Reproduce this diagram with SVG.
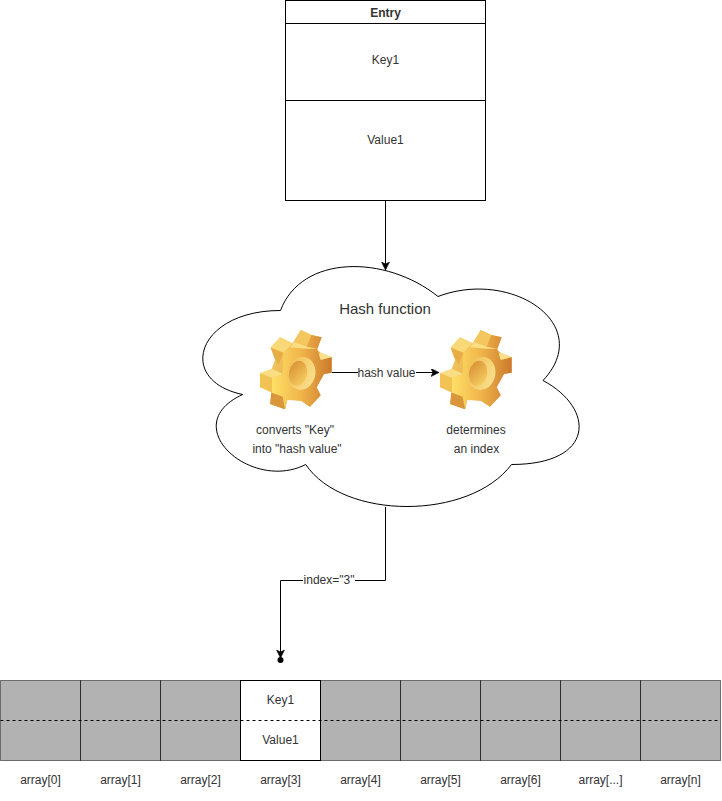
<svg xmlns="http://www.w3.org/2000/svg" width="722" height="801" viewBox="0 0 722 801">
<style>
text{font-family:"Liberation Sans",Arial,sans-serif;font-size:12px;fill:#333;text-anchor:middle}
.b{fill:#fff;stroke:#000;stroke-width:1}
.c{fill:#000;fill-opacity:.3;stroke:#000;stroke-opacity:.5;stroke-width:1}
.e{fill:none;stroke:#000;stroke-width:1}
</style>
<defs>
<linearGradient id="gf" x1="0" y1="0" x2="1" y2="0"><stop offset="0" stop-color="#ffe066"/><stop offset=".5" stop-color="#efb34a"/><stop offset="1" stop-color="#cc7a2c"/></linearGradient>
<linearGradient id="gs" x1="0" y1="0" x2="1" y2="1"><stop offset="0" stop-color="#fad46a"/><stop offset="1" stop-color="#dd9a38"/></linearGradient>
<linearGradient id="gh" x1="0" y1="0" x2="1" y2="1"><stop offset="0" stop-color="#d68a30"/><stop offset="1" stop-color="#f9d565"/></linearGradient>
<linearGradient id="gr" x1="0" y1="0" x2="1" y2=".3"><stop offset="0" stop-color="#f0bd50"/><stop offset="1" stop-color="#f9dc88"/></linearGradient>
<g id="gear" transform="translate(200 250) scale(.3333)">
<polygon fill="url(#gs)" points="302,240 335,255 365,262 350,298 362,308 395,322 395,368 372,372 350,412 362,436 330,470 303,452 262,448 255,478 210,462 228,418 215,410 180,412 180,370 215,358 228,322 212,293 240,262 278,280"/>
<polygon fill="#f4c75e" points="302,240 334,255 318,295 282,278"/>
<polygon fill="#f9d878" points="240,262 278,280 250,308 212,293"/>
<polygon fill="#e8ae45" points="212,293 250,308 236,345 222,322"/>
<polygon fill="#fbdd84" points="180,370 215,356 250,372 216,384"/>
<polygon fill="#fde08c" points="362,308 395,322 365,332 348,318"/>
<polygon fill="#d9963a" points="215,418 262,442 255,478 210,462"/>
<polygon fill="url(#gf)" points="250,306 280,290 318,296 334,255 365,262 352,298 362,330 395,322 395,368 372,372 350,412 362,436 330,470 303,452 262,450 255,478 248,440 216,428 216,384 248,372"/>
<polygon fill="#f3c254" points="180,370 216,384 216,428 180,412"/>
<polygon fill="#fbdd84" points="270,292 283,277 320,290 352,296 318,296"/>
<ellipse cx="304" cy="370" rx="42" ry="50" transform="rotate(12 304 370)" fill="url(#gr)"/>
<ellipse cx="294" cy="370" rx="27" ry="38" transform="rotate(12 294 370)" fill="url(#gh)"/>
</g>
<marker id="a" markerWidth="10" markerHeight="10" refX="8" refY="4" orient="auto" markerUnits="userSpaceOnUse"><path d="M0 0L8 4L0 8L2 4Z" fill="#000" stroke="#000" stroke-width=".6"/></marker>
</defs>
<g id="entry">
<rect class="b" x="285.5" y=".5" width="200" height="200"/>
<path class="e" d="M285.5 23.5H485.5M285.5 100.5H485.5"/>
<text x="385.5" y="16.500" font-weight="bold">Entry</text>
<text x="385.500" y="64">Key1</text>
<text x="385.500" y="144">Value1</text>
</g>
<g id="hash-function">
<path d="M280.500 310.500C196.500 310.500 175.500 380.500 242.700 394.500C175.500 425.300 251.100 492.500 305.700 464.500C343.500 520.500 469.500 520.500 511.500 464.500C595.500 464.500 595.500 408.500 543 380.500C595.500 324.500 511.500 268.500 438 296.500C385.500 254.500 301.500 254.500 280.500 310.500Z" fill="#fff" stroke="#000"/>
<text x="385" y="314" style="font-size:15px">Hash function</text>
</g>
<g id="gear-hash"><use href="#gear"/><text x="295" y="434">converts "Key"</text><text x="297" y="453">into "hash value"</text></g>
<g id="gear-index"><use href="#gear" x="180"/><text x="476" y="434">determines</text><text x="476.500" y="453">an index</text></g>
<g id="connectors">
<path class="e" d="M385.5 200.5V270" marker-end="url(#a)"/>
<path class="e" d="M332 372.500H439" marker-end="url(#a)"/>
<path class="e" d="M385.5 507V580.5H280.5V658" marker-end="url(#a)"/>
<circle cx="280.5" cy="660" r="3" fill="#000"/>
</g>
<g id="labels">
<rect x="358" y="365" width="58" height="15" fill="#fff"/><text x="386.500" y="377">hash value</text>
<rect x="303" y="573" width="52" height="15" fill="#fff"/><text x="329" y="584">index="3"</text>
</g>
<g id="array">
<rect class="c" x=".5" y="680.500" width="80" height="80"/><rect class="c" x="80.500" y="680.500" width="80" height="80"/><rect class="c" x="160.500" y="680.500" width="80" height="80"/>
<rect class="b" x="240.500" y="680.500" width="80" height="80"/>
<rect class="c" x="320.500" y="680.500" width="80" height="80"/><rect class="c" x="400.500" y="680.500" width="80" height="80"/><rect class="c" x="480.500" y="680.500" width="80" height="80"/><rect class="c" x="560.500" y="680.500" width="80" height="80"/><rect class="c" x="640.500" y="680.500" width="80" height="80"/>
<path class="e" stroke-dasharray="3 3" d="M.5 720.500H720.500"/>
<text x="280.500" y="704">Key1</text><text x="280.500" y="744">Value1</text>
<text x="40.500" y="784">array[0]</text><text x="120.500" y="784">array[1]</text><text x="200.500" y="784">array[2]</text><text x="280.500" y="784">array[3]</text><text x="360.500" y="784">array[4]</text><text x="440.500" y="784">array[5]</text><text x="520.500" y="784">array[6]</text><text x="600.500" y="784">array[...]</text><text x="680.500" y="784">array[n]</text>
</g>
</svg>
